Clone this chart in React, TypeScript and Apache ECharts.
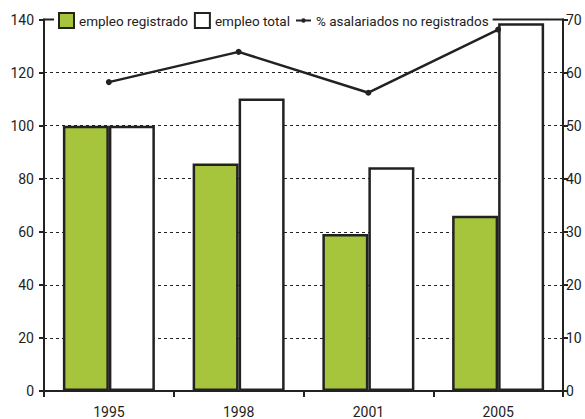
import React, { useEffect, useRef } from "react";
import * as echarts from "echarts";

const categories = ["1995", "1998", "2001", "2005"];
const empleoRegistrado = [100, 85.7, 59.2, 66];
const empleoTotal = [100, 110.2, 84.3, 138.6];
const asalariadosNoRegistrados = [58.2, 63.9, 56.2, 68.1];
const leftTicks = { min: 0, max: 140, interval: 20 };
const rightTicks = { min: 0, max: 70, interval: 10 };

const FONT = "Roboto, 'Liberation Sans', sans-serif";
const DARK = "#222222";
const GREEN = "#a7c43d";
const LINE_ICON =
  "path://M0,0 L0.001,0 Z M0,15 L0.001,15 Z M0,6.5 L17,6.5 L17,8.5 L0,8.5 Z M8.5,5 A2.5,2.5 0 1 1 8.5,10 A2.5,2.5 0 1 1 8.5,5 Z";

export default function App() {
  const ref = useRef<HTMLDivElement>(null);
  useEffect(() => {
    if (!ref.current) return;
    const chart = echarts.init(ref.current, undefined, { renderer: "svg" });
    chart.setOption({
      animation: false,
      backgroundColor: "#ffffff",
      textStyle: { fontFamily: FONT, color: DARK },
      grid: {
        left: 44,
        right: 22,
        top: 19.5,
        bottom: 27,
        show: true,
        borderColor: DARK,
        borderWidth: 2,
        backgroundColor: "transparent",
      },
      legend: {
        left: 54,
        top: 10,
        padding: [2, 4, 2, 4],
        backgroundColor: "#ffffff",
        itemWidth: 15,
        itemHeight: 15,
        itemGap: 6,
        textStyle: { fontFamily: FONT, fontSize: 13.5, color: DARK },
        data: [
          { name: "empleo registrado", icon: "rect" },
          { name: "empleo total", icon: "rect" },
          {
            name: "% asalariados no registrados",
            icon: LINE_ICON,
            itemStyle: { color: DARK, borderColor: DARK, borderWidth: 0 },
          },
        ],
      },
      xAxis: {
        type: "category",
        data: categories,
        axisLine: { show: true, lineStyle: { color: DARK, width: 2 } },
        axisTick: { show: true, length: 6, inside: false, lineStyle: { color: DARK, width: 2 } },
        axisLabel: { fontFamily: FONT, fontSize: 14, color: DARK, margin: 14 },
        splitLine: { show: false },
      },
      yAxis: [
        {
          type: "value",
          min: leftTicks.min,
          max: leftTicks.max,
          interval: leftTicks.interval,
          axisLine: { show: true, lineStyle: { color: DARK, width: 2 } },
          axisTick: { show: true, length: 5, lineStyle: { color: DARK, width: 2 } },
          axisLabel: { fontFamily: FONT, fontSize: 14, color: DARK, margin: 10 },
          splitLine: {
            show: true,
            lineStyle: { color: DARK, width: 1, type: [3, 3] },
          },
        },
        {
          type: "value",
          position: "right",
          min: rightTicks.min,
          max: rightTicks.max,
          interval: rightTicks.interval,
          axisLine: { show: true, lineStyle: { color: DARK, width: 2 } },
          axisTick: { show: true, length: 5, lineStyle: { color: DARK, width: 2 } },
          axisLabel: { fontFamily: FONT, fontSize: 14, color: DARK, margin: 3 },
          splitLine: { show: false },
        },
      ],
      series: [
        {
          name: "empleo registrado",
          type: "bar",
          data: empleoRegistrado,
          barWidth: 46,
          barGap: "0%",
          itemStyle: { color: GREEN, borderColor: DARK, borderWidth: 2.5 },
          z: 3,
        },
        {
          name: "empleo total",
          type: "bar",
          data: empleoTotal,
          barWidth: 46,
          barGap: "0%",
          itemStyle: { color: "#ffffff", borderColor: DARK, borderWidth: 2.5 },
          z: 3,
        },
        {
          name: "% asalariados no registrados",
          type: "line",
          yAxisIndex: 1,
          data: asalariadosNoRegistrados,
          symbol: "circle",
          symbolSize: 6,
          lineStyle: { color: DARK, width: 2.5 },
          itemStyle: { color: DARK },
          z: 5,
        },
      ],
    });
    return () => chart.dispose();
  }, []);
  return <div ref={ref} style={{ width: 585, height: 419, position: "absolute", left: 0, top: 0 }} />;
}
